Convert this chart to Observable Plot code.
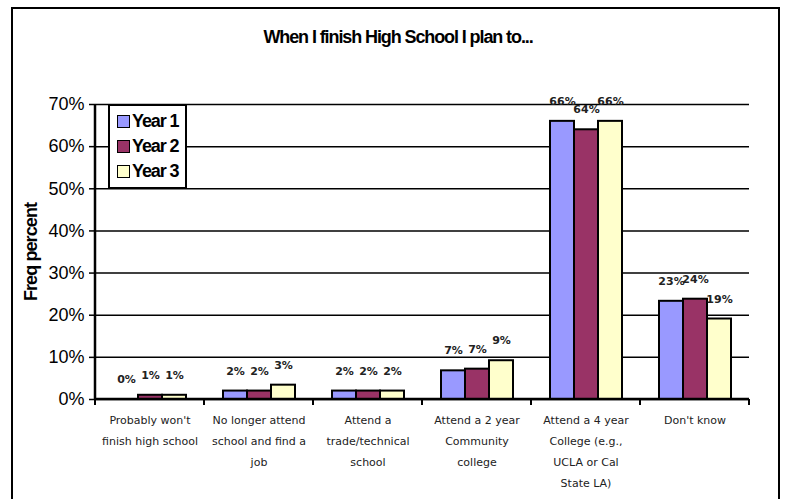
<!DOCTYPE html>
<html>
<head>
<meta charset="utf-8">
<script src="https://cdn.jsdelivr.net/npm/d3@7"></script>
<script src="https://cdn.jsdelivr.net/npm/@observablehq/plot@0.6"></script>
<style>
  body { margin: 0; background: #fff; }
  #wrap { position: relative; width: 786px; height: 499px; overflow: hidden; background: #fff; }
  #frame { position: absolute; left: 11px; top: 7px; width: 765px; height: 520px; border: 2px solid #000; }
  #title { position: absolute; left: 198px; top: 27px; width: 400px; text-align: center;
           font: bold 18px "Liberation Sans", Arial, sans-serif; letter-spacing: -1.1px; color: #000; }
  #ylabel { position: absolute; left: 31px; top: 252px; transform: translate(-50%, -50%) rotate(-90deg);
            white-space: nowrap; font: bold 18px "Liberation Sans", Arial, sans-serif; letter-spacing: -0.9px; }
  #chart { position: absolute; left: 0; top: 0; }
  #legend { position: absolute; left: 108px; top: 104px; width: 75px; height: 81px; border: 2px solid #000; background: #fff; }
  .lrow { position: absolute; left: 7px; height: 20px; display: flex; align-items: center;
          font: bold 18px "Liberation Sans", Arial, sans-serif; letter-spacing: -1.1px; }
  .sw { width: 11px; height: 11px; border: 1.5px solid #000; margin-right: 2px; }
</style>
</head>
<body>
<div id="wrap">
  <div id="frame"></div>
  <div id="title">When I finish High School I plan to...</div>
  <div id="ylabel">Freq percent</div>
  <div id="chart"></div>
  <div id="legend"></div>
</div>
<script>
const categories = [
  "Probably won't\nfinish high school",
  "No longer attend\nschool and find a\njob",
  "Attend a\ntrade/technical\nschool",
  "Attend a 2 year\nCommunity\ncollege",
  "Attend a 4 year\nCollege (e.g.,\nUCLA or Cal\nState LA)",
  "Don't know"
];
const years = ["Year 1", "Year 2", "Year 3"];
const year1 = [0, 2, 2, 6.8, 66, 23.3];
const year2 = [1, 2, 2, 7.2, 64, 23.8];
const year3 = [1, 3.4, 2, 9.2, 66, 19.1];
const yTicks = [0, 10, 20, 30, 40, 50, 60, 70];
const colors = ["#9999FF", "#993366", "#FFFFCC"];

const series = [year1, year2, year3];
const data = categories.flatMap((c, i) => years.map((yr, j) => ({cat: c, year: yr, value: series[j][i]})));

const chart = Plot.plot({
  width: 786, height: 499,
  marginLeft: 93, marginRight: 36, marginTop: 104, marginBottom: 100,
  style: {background: "transparent", overflow: "visible"},
  fx: {domain: categories, padding: 0, axis: null},
  x: {domain: years, paddingInner: 0, paddingOuter: 0.7, axis: null},
  y: {domain: [0, 70], axis: null},
  color: {domain: years, range: colors},
  marks: [
    Plot.gridY(yTicks, {stroke: "#000", strokeOpacity: 1, strokeWidth: 1.5}),
    Plot.axisY(yTicks, {tickSize: 6, tickPadding: 5, tickFormat: d => d + "%", label: null,
      fontSize: 18, fontFamily: "Liberation Sans, Arial, sans-serif", letterSpacing: -1.6,
      stroke: "#000", strokeWidth: 1.5, fill: "#000"}),
    Plot.barY(data, {fx: "cat", x: "year", y: "value", fill: "year", stroke: "#000", strokeWidth: 2}),
    Plot.text(data, {fx: "cat", x: "year", y: "value", text: d => Math.round(d.value) + "%",
      dy: -20, fontSize: 11, fontWeight: "bold", fontFamily: "DejaVu Sans, Verdana, sans-serif",
      letterSpacing: 0.4, fill: "#222"}),
    Plot.text(categories, {fx: d => d, text: d => d, frameAnchor: "bottom", lineAnchor: "top",
      dy: 10, lineHeight: 1.9, fontSize: 11, fontFamily: "DejaVu Sans, Verdana, sans-serif", fill: "#222"})
  ]
});

document.getElementById("chart").appendChild(chart);

// axis decorations from the library scales
const fx = chart.scale("fx");
const y = chart.scale("y");
const svg = d3.select(chart);
const x0 = fx.apply(categories[0]);
const bounds = categories.map(c => fx.apply(c)).concat([fx.apply(categories[categories.length - 1]) + fx.bandwidth]);
const g = svg.append("g").attr("stroke", "#000");
g.append("line").attr("x1", x0).attr("x2", x0).attr("y1", y.apply(70)).attr("y2", y.apply(0)).attr("stroke-width", 2.5);
g.append("line").attr("x1", x0).attr("x2", bounds[bounds.length - 1]).attr("y1", y.apply(0)).attr("y2", y.apply(0)).attr("stroke-width", 2.5);
g.selectAll(".bt").data(bounds).join("line").attr("x1", d => d).attr("x2", d => d)
  .attr("y1", y.apply(0)).attr("y2", y.apply(0) + 6).attr("stroke-width", 2);

// legend
const legend = d3.select("#legend");
years.forEach((yr, i) => {
  const row = legend.append("div").attr("class", "lrow").style("top", (5 + i * 25) + "px");
  row.append("div").attr("class", "sw").style("background", colors[i]);
  row.append("span").text(yr);
});
</script>
</body>
</html>
